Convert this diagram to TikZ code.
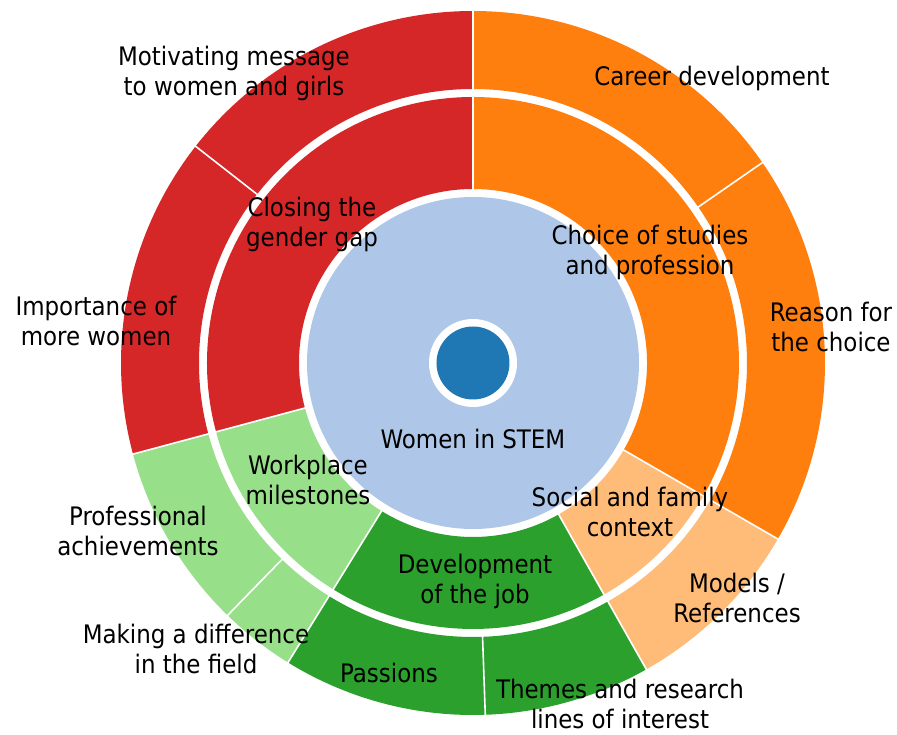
\documentclass[tikz,border=0pt]{standalone}
\usepackage{fontspec}
\setmainfont{DejaVu Sans Condensed}
\definecolor{cred}{HTML}{D62728}
\definecolor{corange}{HTML}{FF7F0E}
\definecolor{clorange}{HTML}{FFBB78}
\definecolor{cgreen}{HTML}{2CA02C}
\definecolor{clgreen}{HTML}{98DF8A}
\definecolor{clblue}{HTML}{AEC7E8}
\definecolor{cblue}{HTML}{1F77B4}
\newcommand\ringsector[5]{\fill[#1] (#2:#4) arc[start angle=#2,end angle=#3,radius=#4] -- (#3:#5) arc[start angle=#3,end angle=#2,radius=#5] -- cycle;}
\begin{document}
\begin{tikzpicture}[x=1pt,y=1pt,
  lbl/.style={align=center,inner sep=0pt,font=\fontsize{25.5}{30}\selectfont,text=black},
  sep/.style={white,line width=1.6pt}]
\useasboundingbox (-473,-372) rectangle (424,363);
\fill[white] (-473,-372) rectangle (424,363);
% middle ring
\ringsector{cred}{90}{195}{174}{266}
\ringsector{clgreen}{195}{238.3}{174}{266}
\ringsector{cgreen}{238.3}{299.5}{174}{266}
\ringsector{clorange}{299.5}{330}{174}{266}
\ringsector{corange}{-30}{90}{174}{266}
% outer ring
\ringsector{cred}{90}{142}{274}{352}
\ringsector{cred}{142}{195}{274}{352}
\ringsector{clgreen}{195}{225.8}{274}{352}
\ringsector{clgreen}{225.8}{238.3}{274}{352}
\ringsector{cgreen}{238.3}{272}{274}{352}
\ringsector{cgreen}{272}{299.5}{274}{352}
\ringsector{clorange}{299.5}{330}{274}{352}
\ringsector{corange}{-30}{34.7}{274}{352}
\ringsector{corange}{34.7}{90}{274}{352}
% separators
\foreach \a in {90,195,238.3,299.5,330} \draw[sep] (\a:173) -- (\a:267);
\foreach \a in {90,142,195,225.8,238.3,272,299.5,330,34.7} \draw[sep] (\a:273) -- (\a:353);
% centre
\fill[clblue] (0,0) circle[radius=166];
\fill[white] (0,0) circle[radius=44];
\fill[cblue] (0,0) circle[radius=36.5];
% labels
\node[lbl] (stem) at (0,-76) {Women in STEM};
\node[lbl] (gap) at (-161,139) {Closing the\\gender gap};
\node[lbl] (choice) at (177,111) {Choice of studies\\and profession};
\node[lbl] (social) at (157,-149) {Social and family\\context};
\node[lbl] (devjob) at (2,-218) {Development\\of the job};
\node[lbl] (work) at (-165,-117) {Workplace\\milestones};
\node[lbl] (motiv) at (-239,290) {Motivating message\\to women and girls};
\node[lbl] (import) at (-377,42) {Importance of\\more women};
\node[lbl] (prof) at (-335,-168) {Professional\\achievements};
\node[lbl] (making) at (-277,-286) {Making a difference\\in the field};
\node[lbl] (pass) at (-84,-310) {Passions};
\node[lbl] (themes) at (147,-341) {Themes and research\\lines of interest};
\node[lbl] (models) at (264,-235) {Models /\\References};
\node[lbl] (reason) at (358,36) {Reason for\\the choice};
\node[lbl] (career) at (239,285) {Career development};
\end{tikzpicture}
\end{document}
